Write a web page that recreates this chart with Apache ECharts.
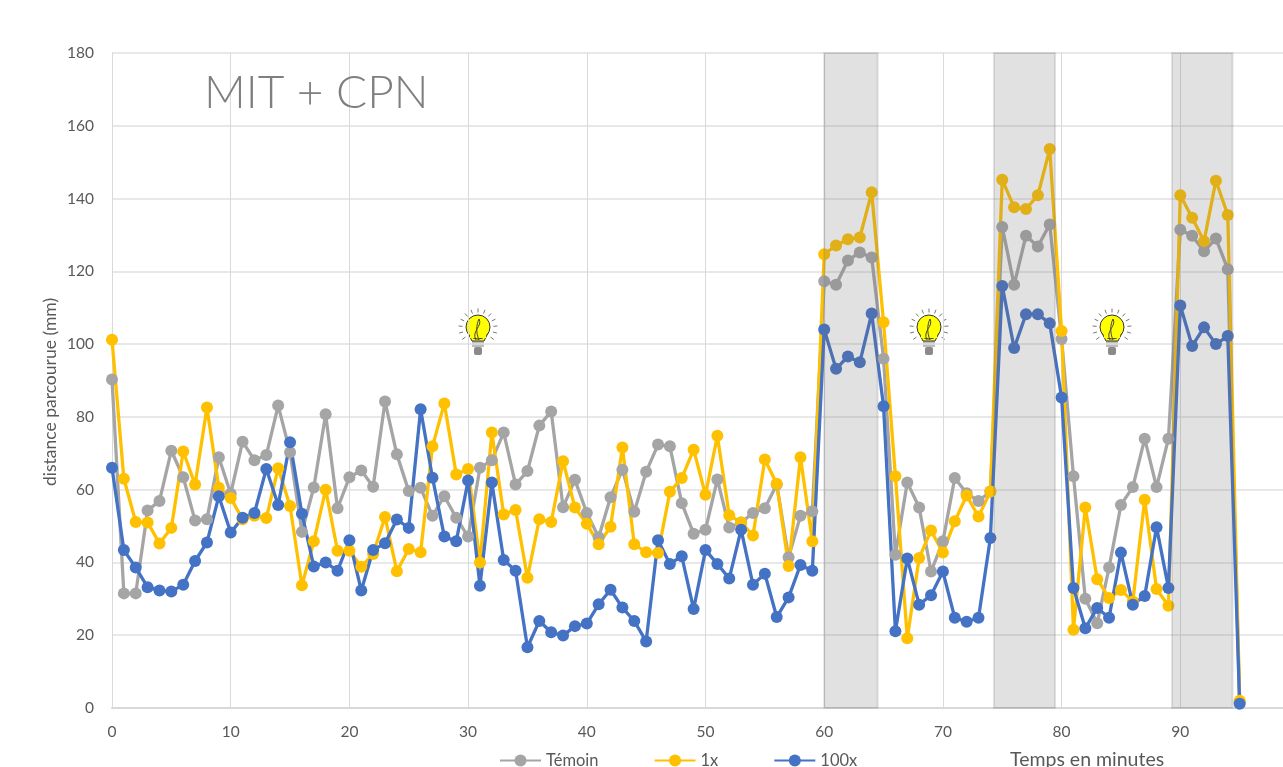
<!DOCTYPE html>
<html>
<head>
<meta charset="utf-8">
<title>MIT + CPN</title>
<script src="https://cdn.jsdelivr.net/npm/echarts@6/dist/echarts.min.js"></script>
<style>
    html, body {margin: 0; padding: 0; background: #fff; overflow: hidden;}
    #chart {width: 1283px; height: 767px;}
</style>
</head>
<body>
<div id="chart"></div>
<script>
//数据
var minutes = [0,1,2,3,4,5,6,7,8,9,10,11,12,13,14,15,16,17,18,19,
    20,21,22,23,24,25,26,27,28,29,30,31,32,33,34,35,36,37,38,39,
    40,41,42,43,44,45,46,47,48,49,50,51,52,53,54,55,56,57,58,59,
    60,61,62,63,64,65,66,67,68,69,70,71,72,73,74,75,76,77,78,79,
    80,81,82,83,84,85,86,87,88,89,90,91,92,93,94,95];

var temoin = [90.3,31.5,31.5,54.3,56.9,70.7,63.4,51.5,51.9,68.9,
    58.9,73.2,68.1,69.5,83.1,70.3,48.4,60.6,80.7,54.9,
    63.4,65.3,60.8,84.2,69.7,59.6,60.5,52.8,58.2,52.3,
    47.1,66,68.1,75.7,61.4,65.1,77.6,81.5,55.2,62.7,
    53.6,46.9,57.9,65.5,53.9,64.9,72.4,71.9,56.3,47.9,
    49,62.8,49.6,51,53.6,54.9,61.4,41.4,52.8,54.1,
    117.3,116.3,123,125.2,123.8,96,42.1,62,55.1,37.5,
    45.8,63.2,59,56.9,59.5,132.2,116.3,129.8,126.8,132.9,
    101.4,63.7,30,23.3,38.6,55.8,60.7,74,60.7,74,
    131.4,129.8,125.5,129,120.6,1.5];

var dose1x = [101.2,63,51.1,51,45.2,49.5,70.5,61.4,82.6,60.5,
    57.7,51.9,52.8,52.2,65.9,55.5,33.7,45.8,60,43.2,
    43.2,38.8,42.3,52.5,37.6,43.7,42.8,71.9,83.7,64.2,
    65.7,40,75.7,53.2,54.4,35.8,51.9,51.1,67.8,55.1,
    50.6,45,49.8,71.6,45,42.8,42.6,59.4,63.2,71,
    58.6,74.8,53,51,47.4,68.3,61.6,39,68.9,45.8,
    124.7,127.1,128.8,129.3,141.7,106,63.7,19.2,41.2,48.8,
    42.7,51.3,58.4,52.6,59.5,145.2,137.6,137.1,140.9,153.6,
    103.6,21.5,55.1,35.4,30.2,32.4,29.3,57.2,32.7,28.1,
    140.9,134.7,128.3,144.9,135.5,2];

var dose100x = [66,43.4,38.6,33.2,32.3,32,33.9,40.4,45.5,58.2,
    48.2,52.3,53.6,65.7,55.8,73,53.4,38.9,40,37.7,
    46.1,32.3,43.4,45.3,51.8,49.5,82.1,63.3,47.1,45.8,
    62.5,33.6,62,40.7,37.7,16.7,23.9,20.8,19.9,22.5,
    23.2,28.5,32.5,27.6,23.9,18.3,46.1,39.6,41.7,27.2,
    43.4,39.6,35.6,49,33.9,36.9,25,30.4,39.3,37.7,
    104,93.2,96.6,95,108.4,82.9,21.1,41.1,28.4,31,
    37.5,24.8,23.7,24.8,46.7,116,98.9,108.2,108.2,105.7,
    85.3,33,21.9,27.5,24.8,42.7,28.4,30.8,49.7,33,
    110.6,99.5,104.6,100,102.2,1.2];

//灰色区间（分钟）
var bandStart = [60,74.3,89.3];
var bandEnd = [64.5,79.45,94.4];

var seriesNames = ["Témoin","1x","100x"];
var chartFont = "Lato";

function pairs(values) {
    return values.map(function (v, i) {
        return [minutes[i], v];
    });
}

function lineSeries(name, values, color) {
    return {
        name: name,
        type: "line",
        data: pairs(values),
        symbol: "circle",
        symbolSize: 12,
        showAllSymbol: true,
        animation: false,
        z: 3,
        lineStyle: {color: color, width: 3.3},
        itemStyle: {color: color}
    };
}

/*灯泡*/
function bulb(cx, cy) {
    var items = [];
    //白色背景
    items.push({type: "rect", shape: {x: cx - 25, y: cy - 23, width: 50, height: 51}, style: {fill: "#fff"}});
    //光线
    for (var i = 0; i < 13; i++) {
        var a = (i * 21 - 216) * Math.PI / 180;
        items.push({
            type: "line",
            shape: {x1: cx + Math.cos(a) * 15.5, y1: cy + Math.sin(a) * 15.5, x2: cx + Math.cos(a) * 19.5, y2: cy + Math.sin(a) * 19.5},
            style: {stroke: "#777", lineWidth: 1}
        });
    }
    //灯座
    items.push({type: "rect", shape: {x: cx - 6, y: cy + 13, width: 12, height: 6}, style: {fill: "#bdbdbd"}});
    items.push({type: "rect", shape: {x: cx - 4, y: cy + 19, width: 8, height: 8, r: 2}, style: {fill: "#8a8a8a"}});
    //玻璃
    items.push({
        type: "polygon",
        shape: {points: [[cx - 10, cy + 5], [cx - 6, cy + 13], [cx + 6, cy + 13], [cx + 10, cy + 5]]},
        style: {fill: "#ffff00", stroke: "#333", lineWidth: 1}
    });
    items.push({type: "circle", shape: {cx: cx, cy: cy - 1, r: 12}, style: {fill: "#ffff00", stroke: "#333", lineWidth: 1}});
    items.push({type: "rect", shape: {x: cx - 8, y: cy + 3, width: 16, height: 7}, style: {fill: "#ffff00"}});
    //灯丝
    items.push({
        type: "bezierCurve",
        shape: {x1: cx - 2, y1: cy + 12, cpx1: cx - 7, cpy1: cy + 3, cpx2: cx + 5, cpy2: cy - 2, x2: cx + 1, y2: cy - 9},
        style: {fill: "none", stroke: "#444", lineWidth: 1}
    });
    items.push({
        type: "bezierCurve",
        shape: {x1: cx + 1, y1: cy - 9, cpx1: cx - 2, cpy1: cy - 3, cpx2: cx - 2, cpy2: cy + 5, x2: cx + 1, y2: cy + 12},
        style: {fill: "none", stroke: "#444", lineWidth: 1}
    });
    return {type: "group", z: 10, children: items};
}

var myChart = echarts.init(document.getElementById("chart"));

var bandData = bandStart.map(function (s, i) {
    return [{xAxis: s}, {xAxis: bandEnd[i]}];
});

var option = {
    animation: false,
    backgroundColor: "#fff",
    textStyle: {fontFamily: chartFont},
    title: {
        text: "MIT + CPN",
        left: 199,
        top: 65,
        textStyle: {fontFamily: chartFont, fontSize: 46, fontWeight: 300, color: "#7f7f7f"}
    },
    legend: {
        data: seriesNames,
        left: 494,
        top: 747,
        itemWidth: 41,
        itemHeight: 15,
        itemGap: 55,
        textStyle: {fontSize: 16.5, color: "#595959", fontFamily: chartFont}
    },
    //grid右边超出画布，v6要关掉outerBounds
    grid: {left: 112, top: 53, width: 1187, height: 655, outerBoundsMode: "none"},
    xAxis: {
        type: "value",
        min: 0,
        max: 100,
        interval: 10,
        axisLine: {lineStyle: {color: "#d9d9d9", width: 2}},
        axisTick: {show: false},
        axisLabel: {color: "#595959", fontSize: 15.5, margin: 16, fontFamily: chartFont},
        splitLine: {show: true, lineStyle: {color: "#d9d9d9", width: 1}}
    },
    yAxis: {
        type: "value",
        min: 0,
        max: 180,
        interval: 20,
        axisLine: {show: true, lineStyle: {color: "#d9d9d9", width: 1}},
        axisTick: {show: false},
        axisLabel: {color: "#595959", fontSize: 15.5, margin: 18, fontFamily: chartFont},
        splitLine: {show: true, lineStyle: {color: "#e0e0e0", width: 1.5}}
    },
    series: [
        lineSeries(seriesNames[0], temoin, "#a5a5a5"),
        lineSeries(seriesNames[1], dose1x, "#ffc000"),
        lineSeries(seriesNames[2], dose100x, "#4472c4"),
        {
            //灰色区间盖在折线上
            name: "bandes",
            type: "line",
            data: [],
            z: 5,
            markArea: {
                silent: true,
                z: 5,
                itemStyle: {color: "rgba(115,115,115,0.21)", borderColor: "rgba(120,120,120,0.2)", borderWidth: 2},
                data: bandData
            }
        }
    ],
    graphic: [
        {
            type: "text",
            x: 50,
            y: 392,
            rotation: Math.PI / 2,
            style: {
                text: "distance parcourue (mm)",
                fontSize: 17.5,
                fontFamily: chartFont,
                fill: "#595959",
                align: "center",
                verticalAlign: "middle"
            }
        },
        {
            type: "text",
            x: 1010,
            y: 750,
            style: {text: "Temps en minutes", fontSize: 19.5, fontFamily: chartFont, fill: "#595959"}
        },
        bulb(478, 328),
        bulb(929, 328),
        bulb(1112, 328)
    ]
};

myChart.setOption(option);
</script>
</body>
</html>
